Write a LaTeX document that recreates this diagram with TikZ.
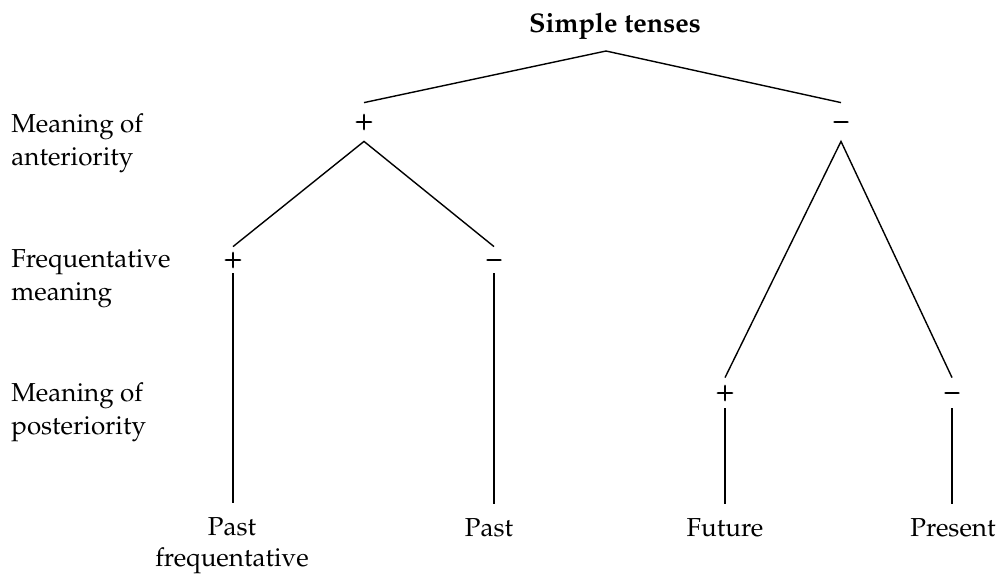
\documentclass[tikz,border=0pt]{standalone}
\usepackage[T1]{fontenc}
\usepackage{mathpazo}
% fill-and-stroke text rendering gives the value signs a heavier stroke
\newcommand{\heavysign}[1]{\special{pdf:literal direct 2 Tr 0.45 w}#1\special{pdf:literal direct 0 Tr}}
\begin{document}
\begin{tikzpicture}[x=0.5pt,y=-0.5pt,
  base font/.style={font=\fontsize{13}{16.5}\selectfont},
  rowlabel/.style={base font, inner sep=0pt, anchor=base west, align=left},
  heading/.style={font=\fontsize{13.5}{16.5}\selectfont\bfseries, inner sep=0pt, anchor=base},
  sign/.style={font=\fontsize{11}{13}\selectfont, inner sep=0pt},
  leaf/.style={font=\fontsize{13}{15.5}\selectfont, inner xsep=0pt, inner ysep=7pt, anchor=base, align=center},
  branch/.style={line width=0.7pt}]
\useasboundingbox (0,0) rectangle (1000,574);

% heading and the root of the tree
\node[heading] (title) at (615,32) {Simple tenses};
\coordinate (root) at (606,51);

% feature names down the left side (anchored on their last line)
\node[rowlabel] (ant)  at (11,165) {Meaning of\\anteriority};
\node[rowlabel] (freq) at (11,300) {Frequentative\\meaning};
\node[rowlabel] (post) at (11,434) {Meaning of\\posteriority};

% feature values
\node[sign, minimum height=19pt] (antP) at (364,122) {\heavysign{$+$}};
\node[sign, minimum height=19pt] (antM) at (841,122) {\heavysign{$-$}};
\node[sign, minimum height=13pt] (frqP) at (233,260) {\heavysign{$+$}};
\node[sign, minimum height=13pt] (frqM) at (494,260) {\heavysign{$-$}};
\node[sign, minimum height=15pt] (posP) at (725,393) {\heavysign{$+$}};
\node[sign, minimum height=15pt] (posM) at (952,393) {\heavysign{$-$}};

% resulting tenses
\node[leaf] (pastfreq) at (232,566) {Past\\frequentative};
\node[leaf] (past)     at (489,536) {Past};
\node[leaf] (future)   at (725,536) {Future};
\node[leaf] (present)  at (953,536) {Present};

% branches
\draw[branch] (antP.north) -- (root) -- (antM.north);
\draw[branch] (frqP.north) -- (antP.south) -- (frqM.north);
\draw[branch] (posP.north) -- (antM.south) -- (posM.north);
\draw[branch] (frqP.south) -- (frqP.south |- pastfreq.north);
\draw[branch] (frqM.south) -- (frqM.south |- past.north);
\draw[branch] (posP.south) -- (posP.south |- future.north);
\draw[branch] (posM.south) -- (posM.south |- present.north);
\end{tikzpicture}
\end{document}
